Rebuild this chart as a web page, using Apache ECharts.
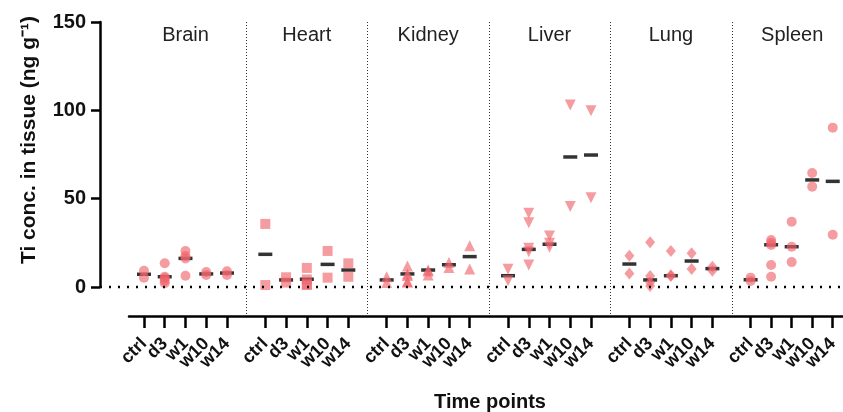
<!DOCTYPE html>
<html>
<head>
<meta charset="utf-8">
<script src="https://cdn.jsdelivr.net/npm/echarts@6/dist/echarts.min.js"></script>
<style>html,body{margin:0;padding:0;background:#fff}#c{width:843px;height:412px}</style>
</head>
<body>
<div id="c"></div>
<script>
const categories = ['ctrl', 'd3', 'w1', 'w10', 'w14'];
const tissues = ['Brain', 'Heart', 'Kidney', 'Liver', 'Lung', 'Spleen'];
const yTicks = [0, 50, 100, 150];

const brain  = [[9.2, 5.3], [13.4, 5.8, 4.9, 2.1, 3.5], [20.4, 17.5, 16.2, 6.4], [6.8, 8.5], [6.8, 8.9]];
const heart  = [[35.7, 1.1], [2.5, 5.5], [10.8, 4.3, 1.1, 1.5], [20.4, 5.3], [13.4, 5.8]];
const kidney = [[2.5, 5.8], [11.9, 7.4, 3.0, 2.8, 6.5], [6.8, 9.6, 9.0], [11.1, 13.8], [23.4, 10.2]];
const liver  = [[10.0, 3.6], [41.7, 36.4, 21.9, 20.0, 12.5], [28.9, 24.7, 22.5], [103.0, 45.5], [99.8, 50.5]];
const lung   = [[17.7, 7.7], [25.3, 6.2, 2.5, 0.6], [20.4, 6.2, 6.6], [19.1, 10.2], [9.2, 11.5]];
const spleen = [[3.4, 5.3], [26.6, 23.8, 12.5, 5.8, 25.0], [37.0, 22.8, 14.1], [64.5, 56.8], [90.2, 29.6]];

const brainMean  = [7.2, 5.8, 16.2, 7.4, 7.9];
const heartMean  = [18.5, 4.0, 4.4, 12.8, 9.6];
const kidneyMean = [4.0, 7.4, 9.6, 12.6, 17.2];
const liverMean  = [6.4, 21.3, 24.2, 73.6, 74.7];
const lungMean   = [13.0, 4.0, 6.4, 14.7, 10.4];
const spleenMean = [4.1, 23.9, 22.8, 60.6, 59.8];

const values = [brain, heart, kidney, liver, lung, spleen];
const means = [brainMean, heartMean, kidneyMean, liverMean, lungMean, spleenMean];

// styles / layout
const FONT = '"Liberation Sans", Arial, Helvetica, sans-serif';
const PINK = 'rgba(240,100,108,0.8)';
const symbols = [
  {symbol: 'circle', size: 10, rotate: 0},
  {symbol: 'rect', size: 10, rotate: 0},
  {symbol: 'triangle', size: 11, rotate: 0},
  {symbol: 'triangle', size: 11, rotate: 180},
  {symbol: 'diamond', size: [10, 12], rotate: 0},
  {symbol: 'circle', size: 10, rotate: 0}
];
const TOP = 22, H = 265, XOFF = 29;
const band = 20.75, period = 121.35, firstLeft = 133.6;
const gw = band * 5;

const grids = [
  {left: 100, top: TOP, width: 743, height: H},
  {left: 129, top: TOP, width: 714, height: H}
];
const xAxes = [
  {gridIndex: 0, type: 'value', min: 0, max: 1, show: false},
  {gridIndex: 1, type: 'value', min: 0, max: 1, offset: XOFF, position: 'bottom',
   axisLine: {show: true, onZero: false, lineStyle: {color: '#000', width: 2.5}},
   axisTick: {show: false}, axisLabel: {show: false}, splitLine: {show: false}}
];
const yAxes = [
  {gridIndex: 0, type: 'value', min: 0, max: 150, interval: 50,
   axisLine: {show: true, onZero: false, lineStyle: {color: '#000', width: 2.5}},
   axisTick: {show: true, length: 9, lineStyle: {color: '#000', width: 2.5}},
   axisLabel: {fontFamily: FONT, fontWeight: 'bold', fontSize: 20, color: '#111', margin: 14,
               formatter: v => yTicks.includes(v) ? String(v) : ''},
   splitLine: {show: false}},
  {gridIndex: 1, type: 'value', min: 0, max: 150, show: false}
];
const series = [
  {type: 'line', xAxisIndex: 0, yAxisIndex: 0, data: [], silent: true,
   markLine: {silent: true, symbol: 'none', label: {show: false},
     lineStyle: {color: '#000', width: 2.4, type: [2, 7]},
     data: [{yAxis: 0}]}}
];
const graphics = [];

tissues.forEach((t, g) => {
  const left = firstLeft + g * period;
  const gi = g + 2;
  grids.push({left: left, top: TOP, width: gw, height: H});
  xAxes.push({gridIndex: gi, type: 'category', data: categories, offset: XOFF, position: 'bottom',
    axisLine: {show: false, onZero: false},
    axisTick: {show: true, alignWithLabel: true, length: 12, lineStyle: {color: '#000', width: 2.5}},
    axisLabel: {fontFamily: FONT, fontWeight: 'bold', fontSize: 18, color: '#111',
                rotate: 45, margin: 25, interval: 0},
    splitLine: {show: false}});
  yAxes.push({gridIndex: gi, type: 'value', min: 0, max: 150, show: false});
  const pts = [];
  values[g].forEach((arr, i) => arr.forEach(v => pts.push([i, v])));
  series.push({type: 'scatter', xAxisIndex: gi, yAxisIndex: gi, z: 2,
    data: means[g].map((v, i) => [i, v]),
    symbol: 'rect', symbolSize: [14, 3.5], itemStyle: {color: '#000'}});
  series.push({type: 'scatter', xAxisIndex: gi, yAxisIndex: gi, z: 3,
    data: pts, symbol: symbols[g].symbol, symbolSize: symbols[g].size,
    symbolRotate: symbols[g].rotate, itemStyle: {color: PINK}});
  graphics.push({type: 'text', x: left + gw / 2, y: 35,
    style: {text: t, fontFamily: FONT, fontSize: 20, fill: '#222', textAlign: 'center', textVerticalAlign: 'middle'}});
  if (g > 0) {
    const xd = Math.round(left - (period - gw) / 2) + 0.5;
    graphics.push({type: 'line', shape: {x1: xd, y1: TOP, x2: xd, y2: TOP + H + XOFF},
      style: {stroke: '#333', lineWidth: 1, lineDash: [1, 2]}, z: 0});
  }
});

graphics.push({type: 'text', x: 29, y: 140, rotation: Math.PI / 2,
  style: {text: 'Ti conc. in tissue (ng g\u207B\u00B9)', fontFamily: FONT, fontWeight: 'bold', fontSize: 21,
          fill: '#111', textAlign: 'center', textVerticalAlign: 'middle'}});
graphics.push({type: 'text', x: 490, y: 402,
  style: {text: 'Time points', fontFamily: FONT, fontWeight: 'bold', fontSize: 20,
          fill: '#111', textAlign: 'center', textVerticalAlign: 'middle'}});

const chart = echarts.init(document.getElementById('c'), null, {renderer: 'canvas'});
chart.setOption({
  animation: false,
  backgroundColor: '#fff',
  grid: grids, xAxis: xAxes, yAxis: yAxes, series: series, graphic: graphics
});
</script>
</body>
</html>
